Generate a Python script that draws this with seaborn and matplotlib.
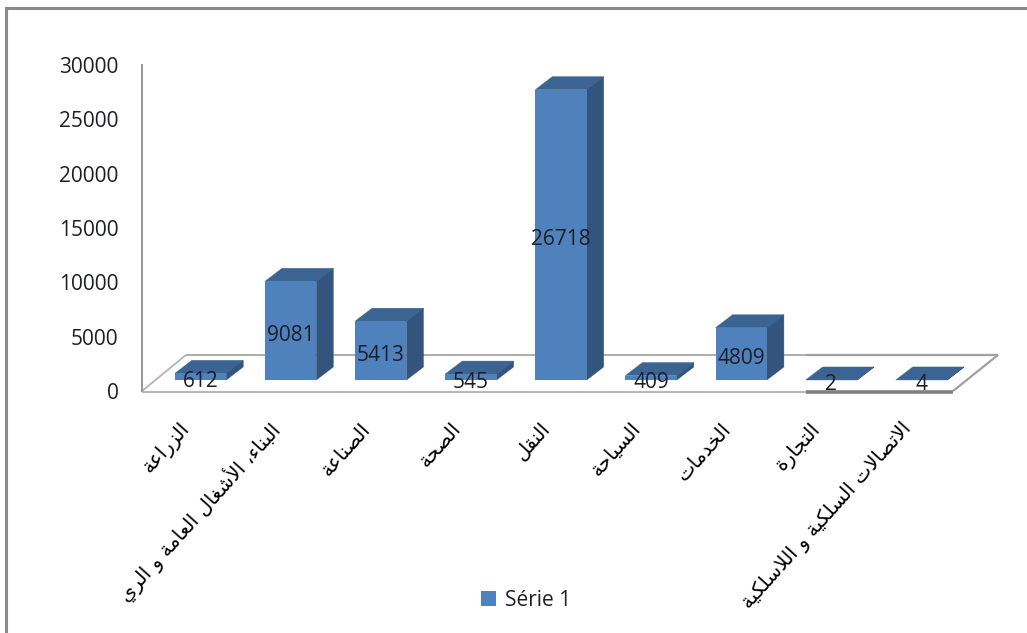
import matplotlib
matplotlib.use("Agg")
import matplotlib.pyplot as plt
import seaborn as sns
from matplotlib.lines import Line2D
from matplotlib.patches import Polygon
from matplotlib.transforms import Affine2D, IdentityTransform

categories = ["الزراعة", "البناء، الأشغال العامة و الري", "الصناعة", "الصحة", "النقل",
              "السياحة", "الخدمات", "التجارة", "الاتصالات السلكية و اللاسلكية"]
values = [612, 9081, 5413, 545, 26718, 409, 4809, 2, 4]
y_ticks = [0, 5000, 10000, 15000, 20000, 25000, 30000]
series_name = "Série 1"

# Minimal Arabic shaping: matplotlib has no text shaper, so map letters to presentation forms.
_F = {"ء": (0xFE80,), "آ": (0xFE81, 0xFE82), "أ": (0xFE83, 0xFE84), "ؤ": (0xFE85, 0xFE86),
      "إ": (0xFE87, 0xFE88), "ا": (0xFE8D, 0xFE8E), "ة": (0xFE93, 0xFE94), "د": (0xFEA9, 0xFEAA),
      "ذ": (0xFEAB, 0xFEAC), "ر": (0xFEAD, 0xFEAE), "ز": (0xFEAF, 0xFEB0), "و": (0xFEED, 0xFEEE)}
for _c, _b in {"ب": 0xFE8F, "ت": 0xFE95, "ث": 0xFE99, "ج": 0xFE9D, "ح": 0xFEA1, "خ": 0xFEA5,
               "س": 0xFEB1, "ش": 0xFEB5, "ص": 0xFEB9, "ض": 0xFEBD, "ط": 0xFEC1, "ظ": 0xFEC5,
               "ع": 0xFEC9, "غ": 0xFECD, "ف": 0xFED1, "ق": 0xFED5, "ك": 0xFED9, "ل": 0xFEDD,
               "م": 0xFEE1, "ن": 0xFEE5, "ه": 0xFEE9, "ي": 0xFEF1}.items():
    _F[_c] = (_b, _b + 1, _b + 2, _b + 3)
_LA = {"ا": 0xFEFB, "أ": 0xFEF7, "إ": 0xFEF9, "آ": 0xFEF5}


def shape(text):
    out, i = [], 0
    joins = lambda c: c in _F and len(_F[c]) == 4
    while i < len(text):
        c = text[i]
        if c not in _F:
            out.append(c)
            i += 1
            continue
        prev = text[i - 1] if i else ""
        pj = joins(prev)
        if c == "ل" and i + 1 < len(text) and text[i + 1] in _LA:
            out.append(chr(_LA[text[i + 1]] + (1 if pj else 0)))
            i += 2
            continue
        nj = i + 1 < len(text) and text[i + 1] in _F and len(_F[c]) == 4
        f = _F[c]
        if len(f) == 1:
            out.append(chr(f[0]))
        elif len(f) == 2:
            out.append(chr(f[1] if pj else f[0]))
        else:
            out.append(chr(f[3] if pj and nj else f[1] if pj else f[2] if nj else f[0]))
        i += 1
    return "".join(reversed(out))


FRONT, TOP, SIDE = "#4F81BD", "#3B6492", "#33547D"
TEXT = "#1E1E26"
W, H = 1027, 633
L, R, T, B = 142, 953, 65, 391      # axes box in pixels from top-left
BAR_DX, BAR_DY = 13.5, 11           # bars stand part-way into the floor
DEPTH_X, DEPTH_Y = 17, 13           # bar depth
FLOOR_X, FLOOR_Y = 44, 36           # floor depth

sns.set_theme(style="white")
plt.rcParams["font.family"] = ["Open Sans", "DejaVu Sans"]
fig = plt.figure(figsize=(W / 100, H / 100), dpi=100, facecolor="white")
ax = fig.add_axes([L / W, 1 - B / H, (R - L) / W, (B - T) / H])
ax.patch.set_alpha(0)
ax.set_zorder(1)

sns.barplot(x=categories, y=values, color=FRONT, saturation=1, width=0.57, ax=ax, label=series_name)
ax.set_xlim(-0.5, len(categories) - 0.5)
ax.set_ylim(0, 30000)
ax.set_yticks(y_ticks)
ax.set_xticks(range(len(categories)))
ax.set_xticklabels([shape(c) for c in categories], rotation=48, ha="right", va="center",
                   rotation_mode="anchor", fontsize=14.3, color="black", family="DejaVu Sans")
ax.tick_params(axis="y", length=0, pad=17, labelsize=15, labelcolor=TEXT)
ax.tick_params(axis="x", length=0, pad=25)
for s in ["top", "right", "bottom"]:
    ax.spines[s].set_visible(False)
ax.spines["left"].set_color("#8C8C8C")
ax.spines["left"].set_linewidth(1.3)

# Floor, in pixels relative to the axes box
px = lambda x, y: (x, H - y)


def seg(p, q, color, lw):
    fig.add_artist(Line2D([p[0], q[0]], [p[1], q[1]], color=color, lw=lw,
                          transform=IdentityTransform(), zorder=0.6, solid_capstyle="butt"))


SPLIT = 806
seg(px(L, B), px(L + FLOOR_X, B - FLOOR_Y), "#B4B4B4", 1.3)
seg(px(L + FLOOR_X, B - FLOOR_Y), px(SPLIT, B - FLOOR_Y), "#A0A0A0", 1.2)
seg(px(SPLIT, B - FLOOR_Y), px(R + FLOOR_X + 1, B - FLOOR_Y), "#A0A0A0", 1.6)
seg(px(R + FLOOR_X + 1, B - FLOOR_Y), px(R, B), "#A0A0A0", 1.6)
seg(px(L, B + 1), px(SPLIT, B + 1), "#B8B8B8", 1.5)
seg(px(SPLIT, B + 1), px(R, B + 1), "#808080", 2.6)

# Extrude the bars drawn by seaborn
shift = Affine2D().translate(BAR_DX, BAR_DY)
for bar, v in zip(list(ax.patches), values):
    bar.set_transform(ax.transData + shift)
    bar.set_clip_on(False)
    bar.set_zorder(3)
    bar.set_edgecolor("none")
    x0, x1 = bar.get_x(), bar.get_x() + bar.get_width()
    (a, b0) = (ax.transData + shift).transform((x0, 0))
    (c, b1) = (ax.transData + shift).transform((x1, v))
    ax.add_patch(Polygon([(a, b1), (a + DEPTH_X, b1 + DEPTH_Y), (c + DEPTH_X, b1 + DEPTH_Y), (c, b1)],
                         closed=True, facecolor=TOP, edgecolor=TOP, lw=0.3,
                         transform=IdentityTransform(), zorder=2.9, clip_on=False))
    ax.add_patch(Polygon([(c, b0), (c + DEPTH_X, b0 + DEPTH_Y), (c + DEPTH_X, b1 + DEPTH_Y), (c, b1)],
                         closed=True, facecolor=SIDE, edgecolor=SIDE, lw=0.3,
                         transform=IdentityTransform(), zorder=2.9, clip_on=False))
    ax.annotate(str(v), xy=((x0 + x1) / 2, v / 2), xycoords="data",
                xytext=(BAR_DX * 0.72, (BAR_DY - 5) * 0.72), textcoords="offset points",
                ha="center", va="center", fontsize=15, color=TEXT, zorder=5, annotation_clip=False)

leg = ax.legend(loc="center", bbox_to_anchor=(526 / W, 1 - 600 / H), bbox_transform=fig.transFigure,
                frameon=False, fontsize=15, handlelength=0.72, handleheight=0.72, handletextpad=0.4,
                labelcolor=TEXT, borderpad=0)

# Outer frame, open on the right and at the bottom
fig.add_artist(Line2D([6, 6, W], [0, H - 8, H - 8], color="#8A8A8A", lw=2.2,
                      transform=IdentityTransform(), solid_joinstyle="miter"))

fig.savefig("out.png", dpi=100)
